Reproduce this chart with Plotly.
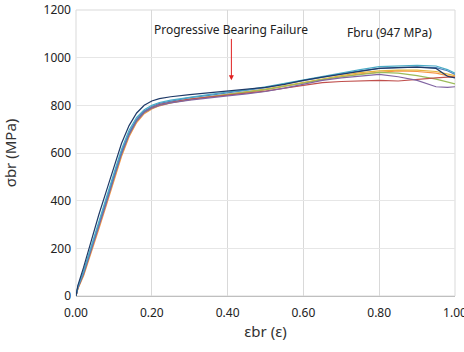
import plotly.graph_objects as go

strain = [0, 0.005, 0.02, 0.04, 0.06, 0.08, 0.10, 0.12, 0.14, 0.16, 0.18, 0.20, 0.22, 0.25,
          0.30, 0.35, 0.40, 0.45, 0.50, 0.55, 0.60, 0.65, 0.70, 0.75, 0.80, 0.85, 0.90, 0.95, 0.98, 1.0]

s_navy = [0, 45, 120, 235, 340, 440, 545, 640, 715, 768, 800, 818, 828, 836, 845, 852, 860, 866,
          875, 888, 905, 918, 930, 942, 955, 958, 960, 955, 922, 915]
s_aqua = [0, 40, 105, 210, 310, 410, 515, 615, 695, 750, 782, 800, 812, 822, 835, 845, 856, 865,
          878, 893, 908, 922, 935, 950, 962, 966, 968, 965, 950, 935]
s_blue = [0, 38, 100, 200, 300, 400, 505, 605, 685, 742, 776, 795, 808, 818, 832, 842, 852, 862,
          874, 890, 905, 918, 932, 945, 955, 958, 960, 958, 945, 930]
s_green = [0, 35, 95, 195, 295, 395, 500, 600, 680, 738, 772, 790, 802, 812, 826, 836, 846, 856,
           866, 880, 895, 908, 920, 930, 938, 935, 925, 910, 898, 890]
s_orange = [0, 30, 85, 180, 280, 380, 485, 585, 668, 728, 765, 785, 798, 810, 824, 834, 845, 855,
            866, 880, 894, 908, 920, 932, 940, 945, 942, 935, 925, 918]
s_gold = [0, 32, 90, 188, 288, 388, 492, 592, 674, 732, 768, 787, 800, 812, 825, 835, 846, 856,
          868, 882, 897, 912, 925, 937, 945, 948, 948, 942, 932, 925]
s_red = [0, 36, 98, 198, 298, 398, 502, 602, 682, 740, 774, 792, 804, 814, 826, 834, 842, 850,
         860, 872, 885, 895, 900, 903, 905, 902, 910, 915, 918, 918]
s_purple = [0, 34, 92, 190, 290, 390, 495, 595, 676, 734, 770, 788, 800, 810, 822, 832, 840, 848,
            858, 872, 888, 905, 915, 922, 930, 920, 905, 878, 875, 878]

series = [
    ("Specimen 1", s_orange, "#F79646"),
    ("Specimen 2", s_gold, "#E6B43C"),
    ("Specimen 3", s_green, "#9BBB59"),
    ("Specimen 4", s_red, "#C0504D"),
    ("Specimen 5", s_purple, "#8064A2"),
    ("Specimen 6", s_blue, "#4F81BD"),
    ("Specimen 7", s_aqua, "#4BACC6"),
    ("Specimen 8", s_navy, "#1F3A68"),
]

fig = go.Figure()
for name, ys, col in series:
    fig.add_trace(go.Scatter(x=strain, y=ys, mode="lines", name=name,
                             line=dict(color=col, width=1.2), showlegend=False))

font_family = "Noto Sans, Open Sans, sans-serif"

fig.add_annotation(x=0.41, y=1120, text="Progressive Bearing Failure", showarrow=False,
                   font=dict(size=12, color="#222222", family=font_family))
fig.add_annotation(x=0.41, y=905, ax=0.41, ay=1085, axref="x", ayref="y", xref="x", yref="y",
                   text="", showarrow=True, arrowhead=2, arrowsize=1, arrowwidth=1,
                   arrowcolor="#E02020")
fig.add_annotation(x=0.826, y=1107, text="Fbru (947 MPa)", showarrow=False,
                   font=dict(size=12, color="#222222", family=font_family))

# light frame around the plot area
fig.add_shape(type="rect", xref="paper", yref="paper", x0=0, x1=1, y0=0, y1=1,
              line=dict(color="#D9D9D9", width=1), layer="below")

fig.update_layout(
    width=464, height=352,
    margin=dict(l=76, r=9, t=10, b=56),
    paper_bgcolor="white", plot_bgcolor="white",
    font=dict(family=font_family, size=12, color="#333333"),
)
fig.update_xaxes(range=[0, 1], dtick=0.2, tick0=0, tickformat=".2f", automargin=False,
                 showgrid=True, gridcolor="#D9D9D9", gridwidth=1,
                 showline=True, linecolor="#BFBFBF", linewidth=1, mirror=False,
                 zeroline=False, ticks="", ticklabelstandoff=6, ticklabeloverflow="allow",
                 title=dict(text="εbr (ε)", font=dict(size=15, color="#333333"), standoff=6),
                 tickfont=dict(size=12, color="#222222"))
fig.update_yaxes(range=[0, 1200], dtick=200, tick0=0, automargin=False,
                 showgrid=True, gridcolor="#E6E6E6", gridwidth=1,
                 showline=False, zeroline=False, ticks="", ticklabelstandoff=4,
                 title=dict(text="σbr (MPa)", font=dict(size=15, color="#333333"), standoff=26),
                 tickfont=dict(size=12, color="#222222"))

fig.write_html("out.html", config={"displayModeBar": False},
               post_script="document.body.style.margin='0';document.body.style.padding='0';")
